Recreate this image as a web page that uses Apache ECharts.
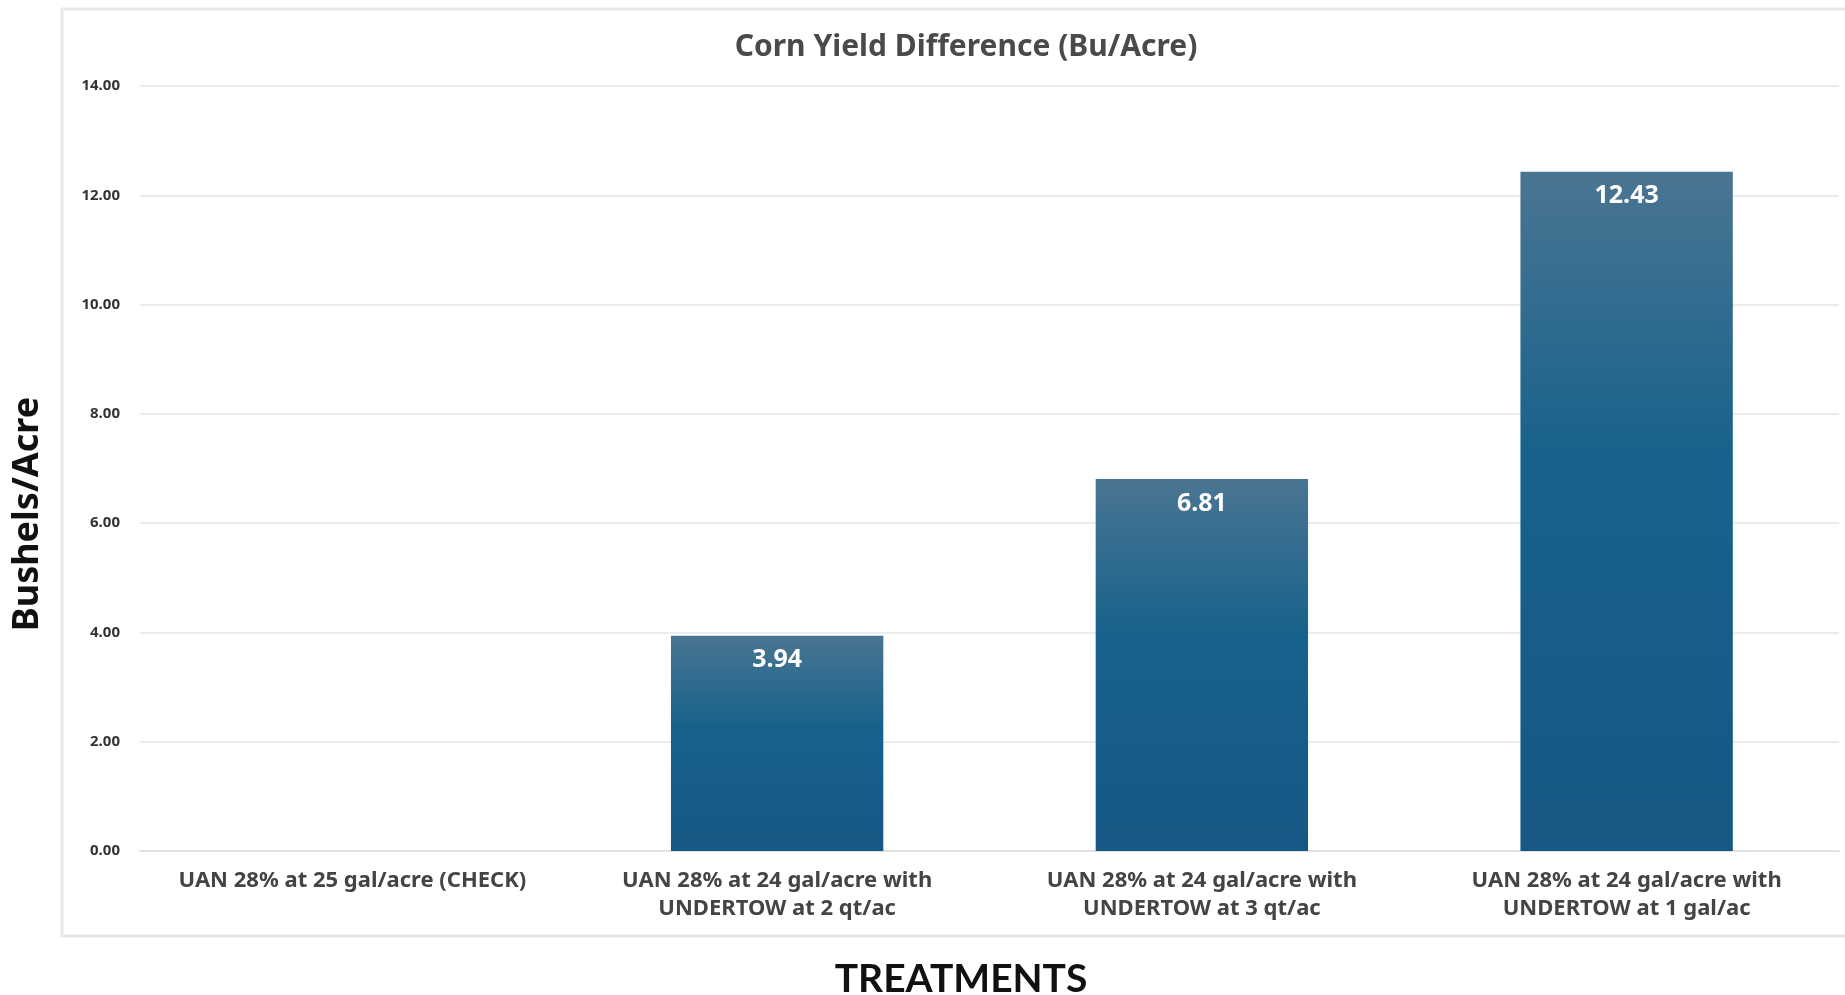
<!DOCTYPE html>
<html>
<head>
<meta charset="utf-8">
<script src="https://cdn.jsdelivr.net/npm/echarts@6/dist/echarts.min.js"></script>
<style>html,body{margin:0;padding:0;background:#fff;}#c{width:1845px;height:995px;}</style>
</head>
<body>
<div id="c"></div>
<script>
const categories = [
  "UAN 28% at 25 gal/acre (CHECK)",
  "UAN 28% at 24 gal/acre with\nUNDERTOW at 2 qt/ac",
  "UAN 28% at 24 gal/acre with\nUNDERTOW at 3 qt/ac",
  "UAN 28% at 24 gal/acre with\nUNDERTOW at 1 gal/ac"
];
const yieldDiff = [0, 3.94, 6.81, 12.43];
const titleText = "Corn Yield Difference (Bu/Acre)";
const yAxisName = "Bushels/Acre";
const xAxisName = "TREATMENTS";

const chart = echarts.init(document.getElementById('c'));
chart.setOption({
  animation: false,
  graphic: [{
    type: 'rect', silent: true, z: -10,
    shape: { x: 62, y: 9, width: 1800, height: 927 },
    style: { fill: 'none', stroke: '#e8e8e8', lineWidth: 3 }
  }, {
    type: 'text', x: 961, y: 979,
    style: { text: xAxisName, fontFamily: 'Lato', fontWeight: 'bold', fontSize: 39, fill: '#111', textAlign: 'center', textVerticalAlign: 'middle' }
  }, {
    type: 'text', rotation: Math.PI / 2, x: 28, y: 514,
    style: { text: yAxisName, fontFamily: 'Noto Sans', fontWeight: 'bold', fontSize: 36, fill: '#111', textAlign: 'center', textVerticalAlign: 'middle' }
  }],
  title: {
    text: titleText, left: 961, top: 27, textAlign: 'center',
    textStyle: { fontFamily: 'Noto Sans', fontWeight: 'bold', fontSize: 30, color: '#4a4a4a' }
  },
  grid: { left: 140, right: 6, top: 86, bottom: 144, containLabel: false },
  xAxis: {
    type: 'category', data: categories,
    axisLine: { lineStyle: { color: '#e2e2e2', width: 2 } },
    axisTick: { show: false },
    axisLabel: { interval: 0, margin: 16, fontFamily: 'Noto Sans', fontWeight: 'bold', fontSize: 22, color: '#444', lineHeight: 28 }
  },
  yAxis: {
    type: 'value', min: 0, max: 14, interval: 2,
    axisLine: { show: false }, axisTick: { show: false },
    splitLine: { lineStyle: { color: '#ececec', width: 2 } },
    axisLabel: { margin: 20, fontFamily: 'Noto Sans', fontWeight: 'bold', fontSize: 15, color: '#333', formatter: v => v.toFixed(2) }
  },
  series: [{
    type: 'bar', data: yieldDiff, barCategoryGap: '50%',
    itemStyle: {
      color: new echarts.graphic.LinearGradient(0, 0, 0, 1, [
        { offset: 0, color: '#4a7592' },
        { offset: 0.42, color: '#17628b' },
        { offset: 1, color: '#155883' }
      ])
    },
    label: {
      show: true, position: 'insideTop', distance: 12,
      fontFamily: 'Noto Sans', fontWeight: 'bold', fontSize: 25, color: '#fff',
      formatter: p => p.value > 0 ? p.value.toFixed(2) : ''
    }
  }]
});
</script>
</body>
</html>
